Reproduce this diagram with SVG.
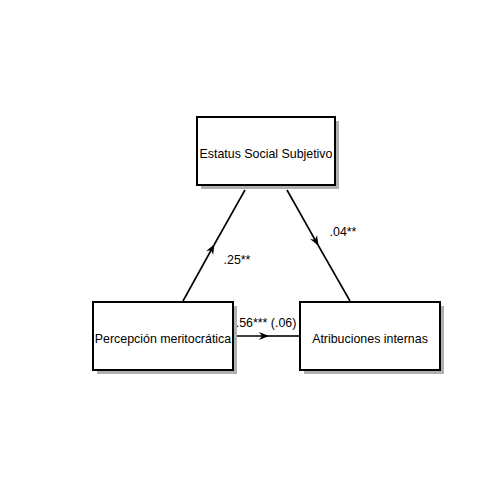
<svg xmlns="http://www.w3.org/2000/svg" width="504" height="504" viewBox="0 0 504 504">
<style>
.box{fill:#fff;stroke:#000;stroke-width:2}
.sh{fill:#b0b0b0}
text{font-family:"Liberation Sans",Arial,sans-serif;font-size:12.4px;fill:#000}
.lbl{text-anchor:middle}
.edge{stroke:#000;stroke-width:1.6;fill:none}
</style>
<defs>
<marker id="ah" viewBox="-10 -5 12 10" refX="0" refY="0" markerWidth="12" markerHeight="10" markerUnits="userSpaceOnUse" orient="auto">
<path d="M-9,-4 L1,0 L-9,4 L-6,0 Z" fill="#000"/>
</marker>
</defs>
<rect width="504" height="504" fill="#fff"/>
<g id="connectors">
<line class="edge" x1="183" y1="301" x2="214" y2="245" marker-end="url(#ah)"/>
<line class="edge" x1="214" y1="245" x2="245" y2="190"/>
<line class="edge" x1="287" y1="190" x2="318" y2="245" marker-end="url(#ah)"/>
<line class="edge" x1="318" y1="245" x2="350" y2="301"/>
<line class="edge" x1="232" y1="336" x2="268" y2="336" marker-end="url(#ah)"/>
<line class="edge" x1="268" y1="336" x2="300" y2="336"/>
<text x="237" y="264" class="lbl">.25**</text>
<text x="343" y="236" class="lbl">.04**</text>
<text x="266" y="327" class="lbl">.56*** (.06)</text>
</g>
<g id="n1">
<rect class="sh" x="201" y="121" width="138" height="68"/>
<rect class="box" x="197" y="117" width="138" height="68"/>
<text x="266" y="158" class="lbl">Estatus Social Subjetivo</text>
</g>
<g id="n2">
<rect class="sh" x="97" y="306" width="140" height="68"/>
<rect class="box" x="93" y="302" width="140" height="68"/>
<text x="163" y="343" class="lbl">Percepción meritocrática</text>
</g>
<g id="n3">
<rect class="sh" x="304" y="306" width="140" height="68"/>
<rect class="box" x="300" y="302" width="140" height="68"/>
<text x="370" y="343" class="lbl">Atribuciones internas</text>
</g>
</svg>
